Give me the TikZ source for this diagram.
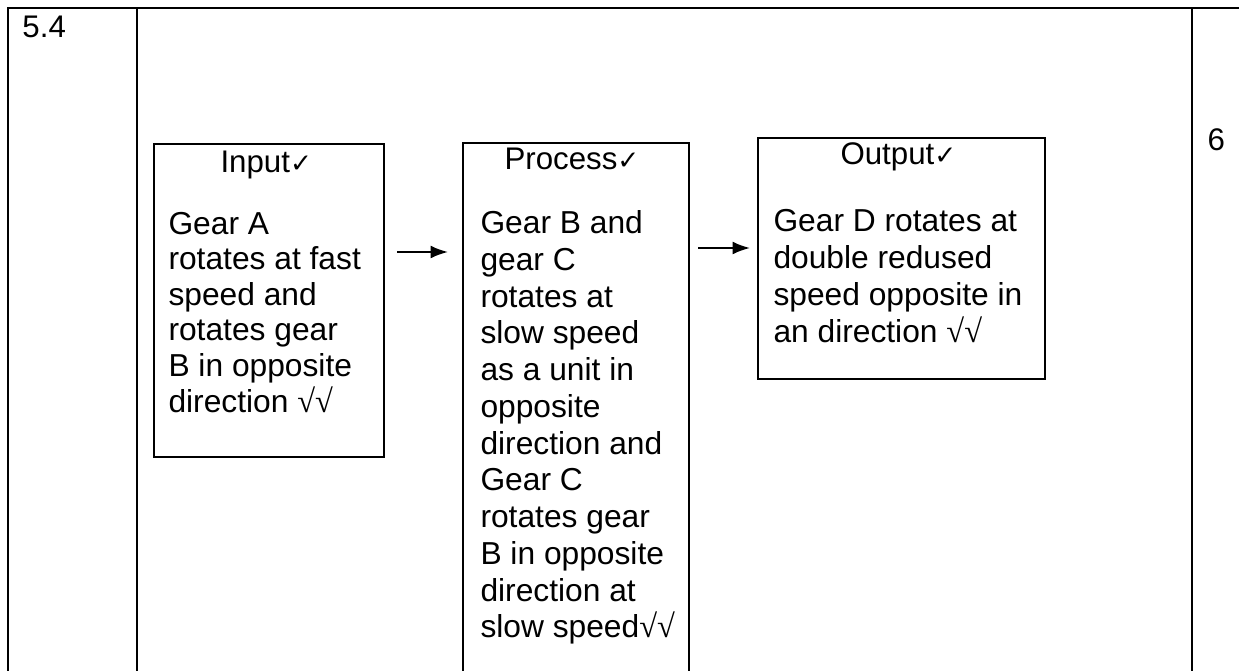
\documentclass[tikz,border=0pt]{standalone}
\usepackage{fontspec}
\setmainfont{Liberation Sans}
\newfontfamily\chkfont{DejaVu Sans}
\newfontfamily\rootfont{Liberation Serif}
\usetikzlibrary{arrows.meta,calc}
\newcommand{\tick}{{\chkfont\fontsize{10.5}{10.5}\selectfont ✓}}
\newcommand{\roots}{{\rootfont\fontsize{13}{13}\selectfont √√}}
\begin{document}
\begin{tikzpicture}[x=0.4pt,y=-0.4pt,
  frame/.style={line width=0.9pt},
  box/.style={draw,line width=0.8pt,anchor=north west,inner sep=0pt},
  title/.style={anchor=base west,inner sep=0pt,font=\fontsize{12.5}{14}\selectfont},
  body/.style={anchor=north west,inner sep=0pt,align=left},
  arr/.style={line width=0.8pt,-{Latex[length=7pt,width=5.2pt]}}]
\useasboundingbox (0,0) rectangle (1239,671);
\clip (0,0) rectangle (1239,671);
% table frame
\draw[frame] (1250,8) -- (8,8) -- (8,690);
\draw[frame] (137,8) -- (137,690);
\draw[frame] (1192,8) -- (1192,690);
\node[title] (num) at (22,38) {5.4};
\node[title] (mark) at (1207,151) {6};
% boxes
\node[box,minimum width=92pt,minimum height=125.2pt] (inbox) at (153,143) {};
\node[box,minimum width=90.4pt,minimum height=216pt] (procbox) at (462,142) {};
\node[box,minimum width=114.8pt,minimum height=96.4pt] (outbox) at (757,137) {};
% titles
\node[title] (intitle) at (220,173) {Input\tick};
\node[title] (proctitle) at (504,170) {Process\tick};
\node[title] (outtitle) at (840,165) {Output\tick};
% bodies
\node[body,font=\fontsize{12.7}{14.2}\selectfont] (intext) at (168,208.5)
  {\rule{0pt}{10.2pt}Gear A\\ rotates at fast\\ speed and\\ rotates gear\\ B in opposite\\ direction \roots};
\node[body,font=\fontsize{12.7}{14.7}\selectfont] (proctext) at (480,207.5)
  {\rule{0pt}{10.2pt}Gear B and\\ gear C\\ rotates at\\ slow speed\\ as a unit in\\ opposite\\ direction and\\ Gear C\\ rotates gear\\ B in opposite\\ direction at\\ slow speed\roots};
\node[body,font=\fontsize{12.7}{14.8}\selectfont] (outtext) at (773,205.5)
  {\rule{0pt}{10.2pt}Gear D rotates at\\ double redused\\ speed opposite in\\ an direction \roots};
% connectors
\draw[arr] ($(inbox.north east)+(12,109)$) -- ($(procbox.north west)+(-14,110)$);
\draw[arr] ($(procbox.north east)+(8,106)$) -- ($(outbox.north west)+(-7,111)$);
\end{tikzpicture}
\end{document}
